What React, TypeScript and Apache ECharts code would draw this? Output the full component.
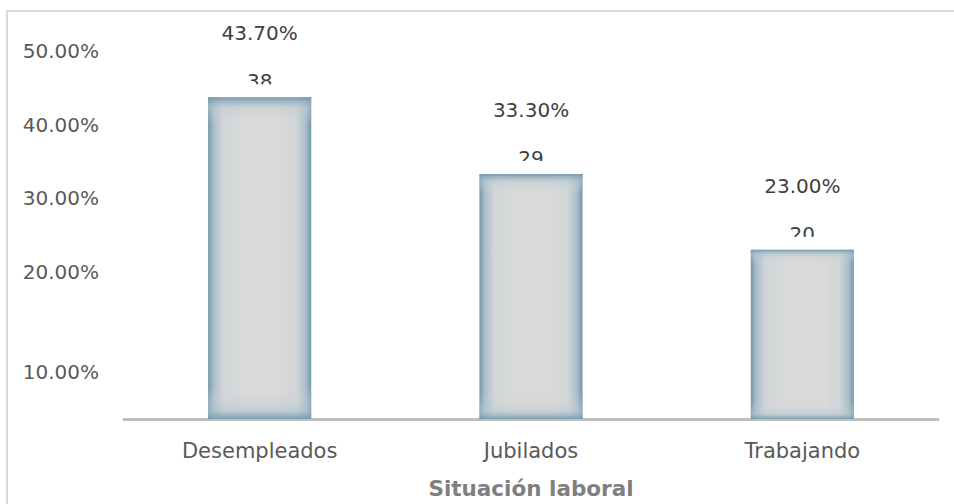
import React, { useEffect, useRef } from "react";
import * as echarts from "echarts";

const categories = ["Desempleados", "Jubilados", "Trabajando"];
const percentages = [43.7, 33.3, 23.0];
const counts = [38, 29, 20];
const yTicks = [0, 10, 20, 30, 40, 50];
const axisName = "Situación laboral";

const FONT = "DejaVu Sans";

export default function App() {
  const ref = useRef<HTMLDivElement>(null);
  useEffect(() => {
    if (!ref.current) return;
    const chart = echarts.init(ref.current, null, { renderer: "svg" });
    const edge = "#7097ac";
    const option: any = {
      animation: false,
      backgroundColor: "#ffffff",
      graphic: [
        {
          type: "rect",
          shape: { x: 7, y: 11, width: 1000, height: 600 },
          style: { fill: "none", stroke: "#d9d9d9", lineWidth: 2 },
          z: -10,
        },
      ],
      grid: { left: 124, right: 16, top: 51, bottom: 78, containLabel: false },
      xAxis: {
        type: "category",
        data: categories,
        axisLine: { show: true, lineStyle: { color: "#bfbfbf", width: 3 } },
        axisTick: { show: false },
        axisLabel: { color: "#595959", fontSize: 21, fontFamily: FONT, margin: 21 },
        name: axisName,
        nameLocation: "middle",
        nameGap: 58,
        nameTextStyle: { color: "#7f7f7f", fontSize: 21.5, fontWeight: "bold", fontFamily: FONT },
      },
      yAxis: {
        type: "value",
        min: yTicks[0],
        max: yTicks[yTicks.length - 1],
        interval: 10,
        axisLine: { show: false },
        axisTick: { show: false },
        splitLine: { show: false },
        axisLabel: {
          color: "#595959",
          fontSize: 20,
          fontFamily: FONT,
          margin: 25,
          formatter: (v: number) => {
            if (v === 0) return "";
            const s = v.toFixed(2) + "%";
            return v === 10 ? "{low|" + s + "}" : s;
          },
          rich: {
            low: { color: "#595959", fontSize: 20, fontFamily: FONT, padding: [54, 0, 0, 0] },
          },
        },
      },
      series: [
        {
          type: "bar",
          data: percentages,
          barWidth: "38%",
          itemStyle: {
            color: {
              type: "linear", x: 0, y: 0, x2: 1, y2: 0,
              colorStops: [
                { offset: 0, color: edge },
                { offset: 0.05, color: "#a9bcc7" },
                { offset: 0.14, color: "#cfd5d8" },
                { offset: 0.3, color: "#d9d9d9" },
                { offset: 0.7, color: "#d9d9d9" },
                { offset: 0.86, color: "#cfd5d8" },
                { offset: 0.95, color: "#a9bcc7" },
                { offset: 1, color: edge },
              ],
            },
          },
          label: {
            show: true,
            position: "top",
            distance: 54,
            color: "#404040",
            fontSize: 20,
            fontFamily: FONT,
            formatter: (p: any) => p.value.toFixed(2) + "%",
          },
          z: 2,
        },
        {
          type: "bar",
          data: percentages,
          barWidth: "38%",
          barGap: "-100%",
          silent: true,
          itemStyle: {
            color: {
              type: "linear", x: 0, y: 0, x2: 0, y2: 1,
              colorStops: [
                { offset: 0, color: "rgba(112,151,172,0.95)" },
                { offset: 0.03, color: "rgba(180,198,208,0.5)" },
                { offset: 0.08, color: "rgba(217,217,217,0)" },
                { offset: 0.9, color: "rgba(217,217,217,0)" },
                { offset: 0.97, color: "rgba(180,198,208,0.5)" },
                { offset: 1, color: "rgba(112,151,172,0.9)" },
              ],
            },
          },
          z: 3,
        },
        {
          type: "custom",
          data: counts.map((c, i) => [i, percentages[i], c]),
          z: 5,
          silent: true,
          renderItem: (params: any, api: any) => {
            const pt = api.coord([api.value(0), api.value(1)]);
            const top = pt[1];
            return {
              type: "group",
              children: [
                {
                  type: "text",
                  style: {
                    x: pt[0],
                    y: top - 26,
                    text: String(api.value(2)),
                    fill: "#404040",
                    fontSize: 20,
                    fontFamily: FONT,
                    align: "center",
                    verticalAlign: "top",
                  },
                },
                {
                  type: "rect",
                  shape: { x: pt[0] - 30, y: top - 13, width: 60, height: 11 },
                  style: { fill: "#ffffff" },
                },
              ],
            };
          },
        },
      ],
    };
    chart.setOption(option);
    return () => chart.dispose();
  }, []);
  return <div ref={ref} style={{ width: 954, height: 504, position: "absolute", left: 0, top: 0 }} />;
}
